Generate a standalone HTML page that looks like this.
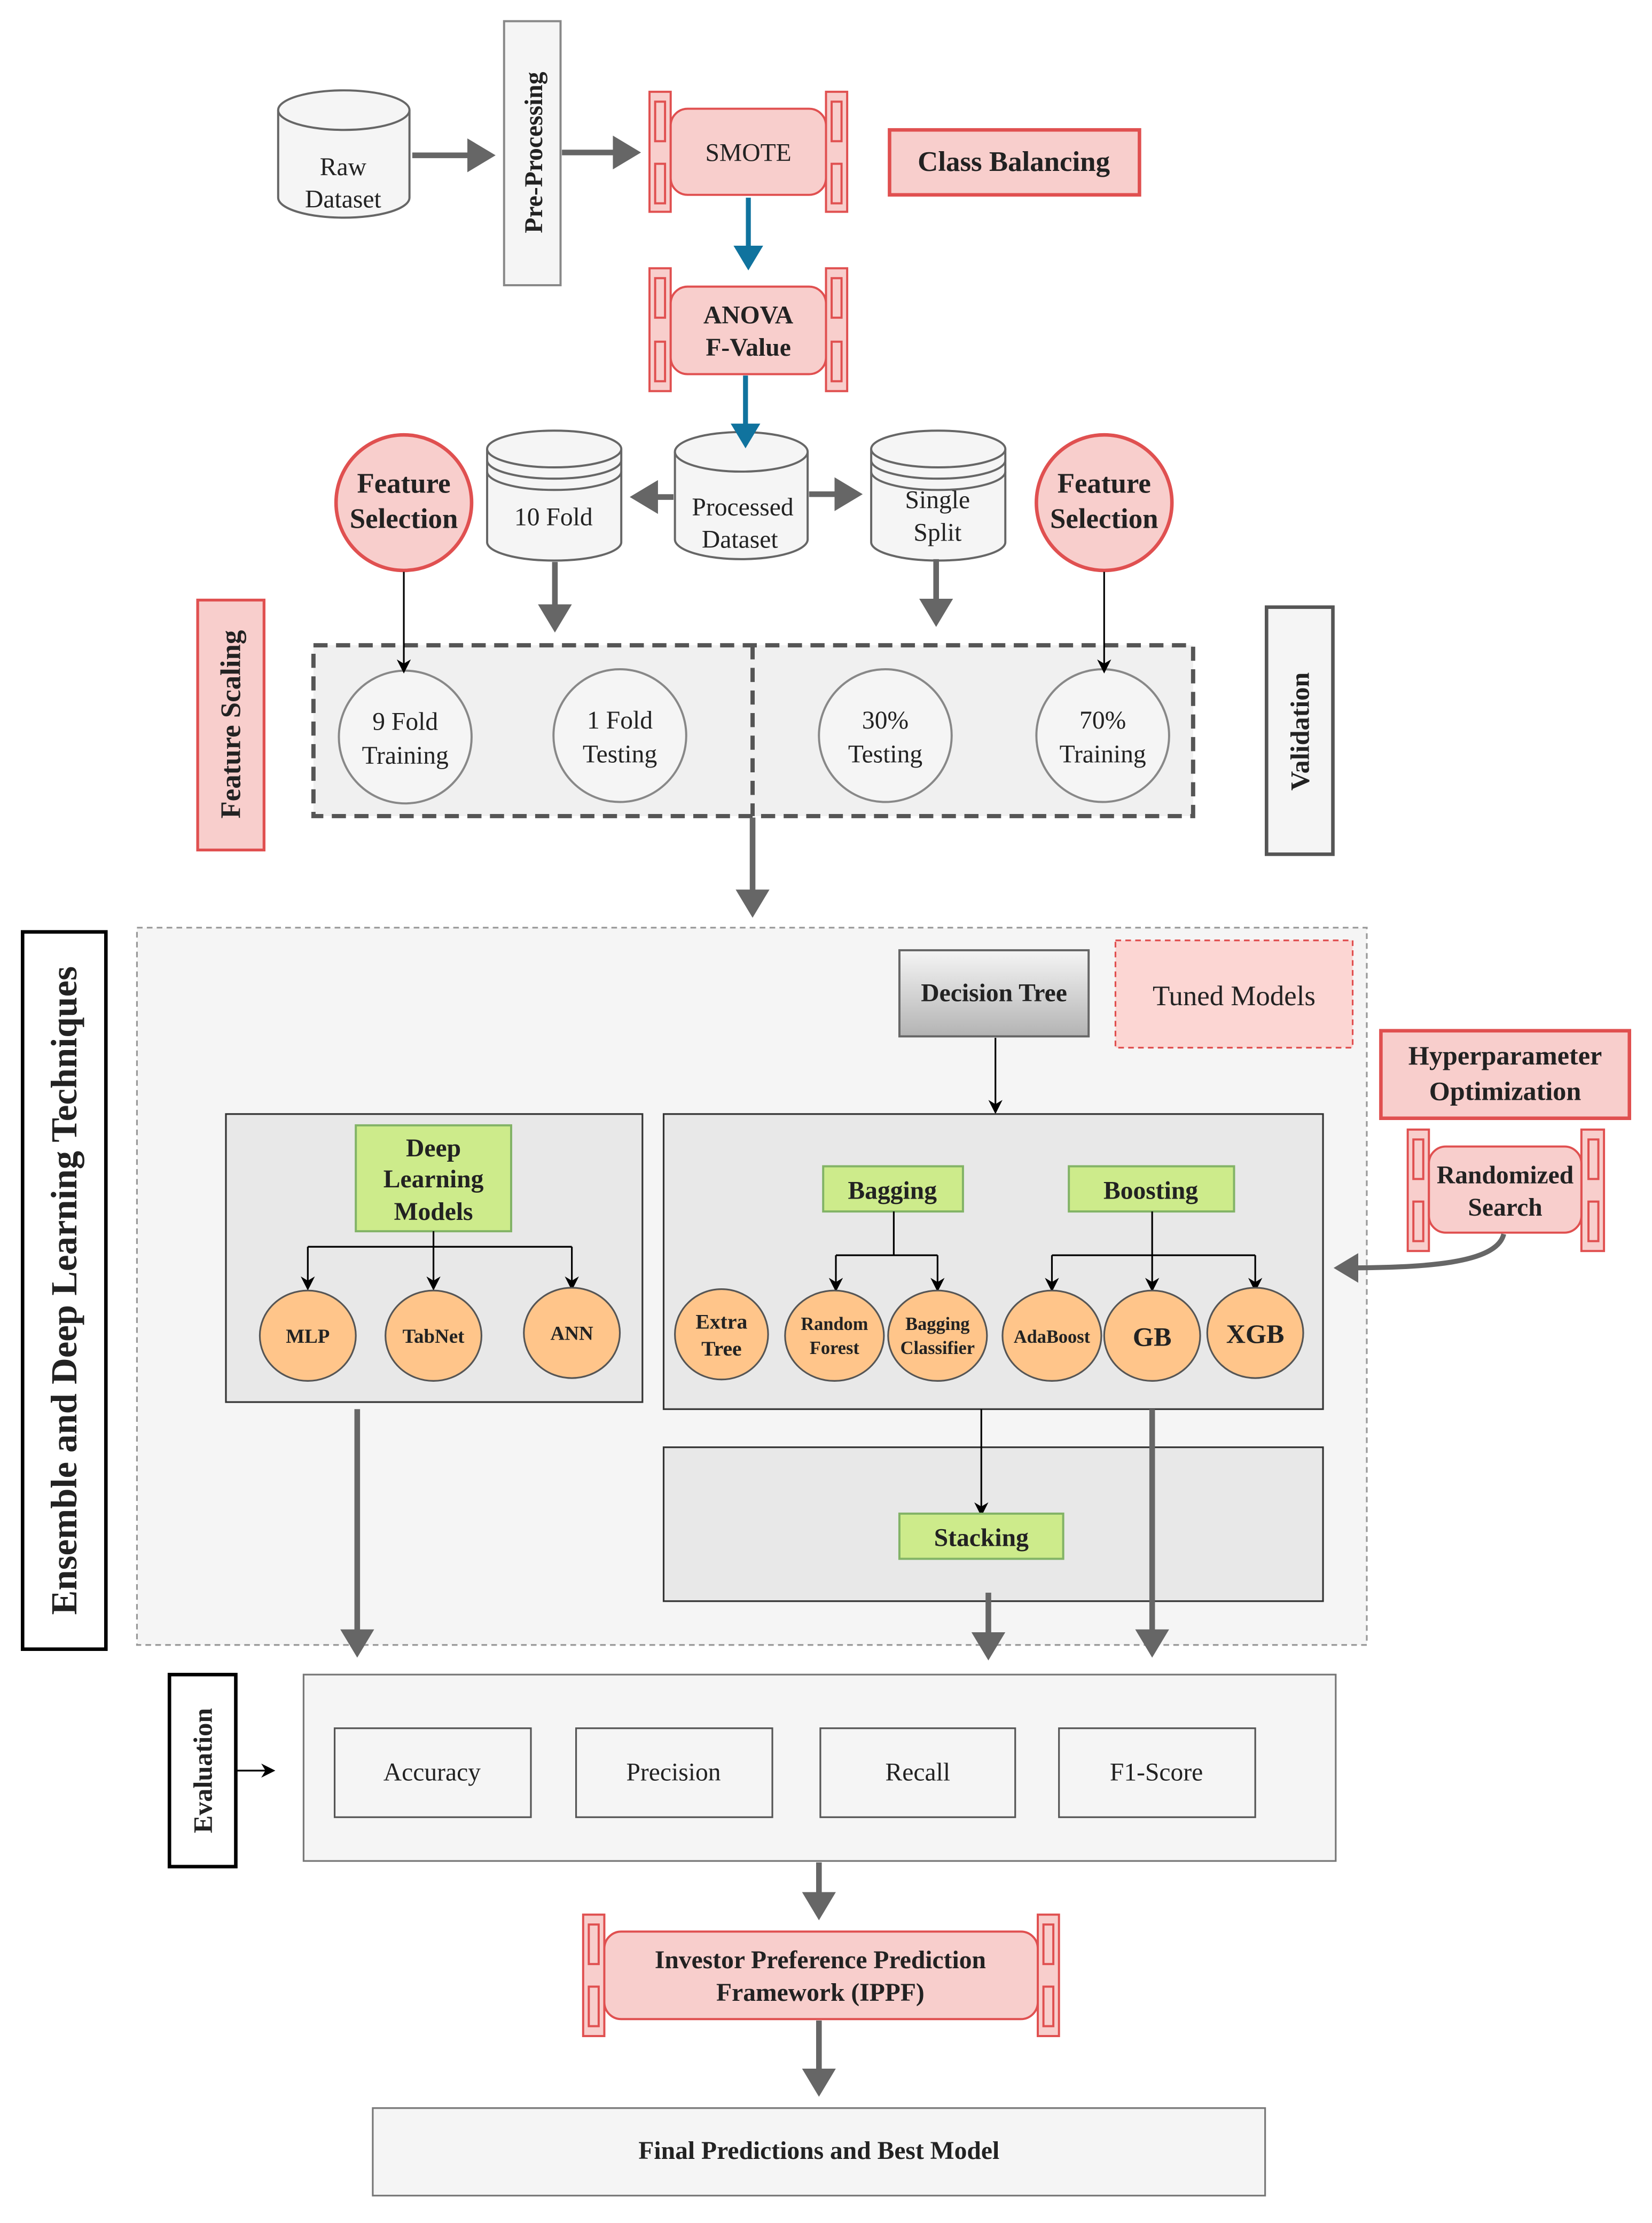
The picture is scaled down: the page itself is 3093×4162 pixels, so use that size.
<!DOCTYPE html>
<html><head><meta charset="utf-8"><style>
html,body{margin:0;padding:0;background:#fff}
svg{display:block}
text{font-family:"Liberation Serif",serif;fill:#222}
</style></head><body>
<svg width="3093" height="4162" viewBox="0 0 1170 1574.4" preserveAspectRatio="none" xmlns="http://www.w3.org/2000/svg">
<defs>
<marker id="g" markerWidth="6" markerHeight="6" refX="4" refY="3" orient="auto" markerUnits="strokeWidth"><path d="M0,0 L5,3 L0,6 Z" fill="#666"/></marker>
<marker id="b" markerWidth="6" markerHeight="6" refX="4" refY="3" orient="auto" markerUnits="strokeWidth"><path d="M0,0 L5,3 L0,6 Z" fill="#10739e"/></marker>
<marker id="k" markerWidth="10" markerHeight="10" refX="8" refY="5" orient="auto" markerUnits="userSpaceOnUse"><path d="M0,0 L10,5 L0,10 L3,5 Z" fill="#000"/></marker>
<linearGradient id="gr" x1="0" y1="0" x2="0" y2="1"><stop offset="0" stop-color="#f5f5f5"/><stop offset="1" stop-color="#b3b3b3"/></linearGradient>
</defs>

<!-- Raw Dataset -->
<path d="M197,78 v62 a46,14 0 0 0 93,0 v-62" fill="#f5f5f5" stroke="#666" stroke-width="1.5"/>
<ellipse cx="243.5" cy="78" rx="46.5" ry="14" fill="#f5f5f5" stroke="#666" stroke-width="1.5"/>
<text x="243" y="124" font-size="18" text-anchor="middle">Raw</text>
<text x="243" y="147" font-size="18" text-anchor="middle">Dataset</text>
<line x1="292" y1="110" x2="347" y2="110" stroke="#666" stroke-width="4" marker-end="url(#g)"/>

<rect x="357" y="15" width="40" height="187" fill="#f5f5f5" stroke="#888" stroke-width="1.5"/>
<text transform="translate(384,108) rotate(-90)" font-size="18" font-weight="bold" text-anchor="middle">Pre-Processing</text>
<line x1="398" y1="108" x2="450" y2="108" stroke="#666" stroke-width="4" marker-end="url(#g)"/>

<!-- SMOTE -->
<g stroke="#e05050" stroke-width="1.5" fill="#f8cecc">
<rect x="460" y="65" width="15" height="85"/><rect x="585" y="65" width="15" height="85"/>
<rect x="464" y="72" width="7" height="28"/><rect x="464" y="116" width="7" height="28"/>
<rect x="589" y="72" width="7" height="28"/><rect x="589" y="116" width="7" height="28"/>
<rect x="475" y="77" width="110" height="61" rx="12"/>
</g>
<text x="530" y="114" font-size="18" text-anchor="middle">SMOTE</text>
<rect x="630" y="92" width="177" height="46" fill="#f8cecc" stroke="#e05050" stroke-width="2.5"/>
<text x="718" y="121" font-size="20" font-weight="bold" text-anchor="middle">Class Balancing</text>
<line x1="530" y1="140" x2="530" y2="188" stroke="#10739e" stroke-width="3.5" marker-end="url(#b)"/>

<!-- ANOVA -->
<g stroke="#e05050" stroke-width="1.5" fill="#f8cecc">
<rect x="460" y="190" width="15" height="87"/><rect x="585" y="190" width="15" height="87"/>
<rect x="464" y="197" width="7" height="28"/><rect x="464" y="242" width="7" height="28"/>
<rect x="589" y="197" width="7" height="28"/><rect x="589" y="242" width="7" height="28"/>
<rect x="475" y="203" width="110" height="62" rx="12"/>
</g>
<text x="530" y="229" font-size="18" font-weight="bold" text-anchor="middle">ANOVA</text>
<text x="530" y="252" font-size="18" font-weight="bold" text-anchor="middle">F-Value</text>

<!-- Processed Dataset -->
<path d="M478,320 v62 a47,14 0 0 0 94,0 v-62" fill="#f5f5f5" stroke="#666" stroke-width="1.5"/>
<ellipse cx="525" cy="320" rx="47" ry="14" fill="#f5f5f5" stroke="#666" stroke-width="1.5"/>
<text x="526" y="365" font-size="18" text-anchor="middle">Processed</text>
<text x="524" y="388" font-size="18" text-anchor="middle">Dataset</text>
<line x1="528" y1="266" x2="528" y2="314" stroke="#10739e" stroke-width="3.5" marker-end="url(#b)"/>
<line x1="477" y1="352" x2="450" y2="352" stroke="#666" stroke-width="4" marker-end="url(#g)"/>
<line x1="573" y1="350" x2="607" y2="350" stroke="#666" stroke-width="4" marker-end="url(#g)"/>

<!-- 10 Fold -->
<path d="M345,318 v66 a47.5,13 0 0 0 95,0 v-66" fill="#f5f5f5" stroke="#666" stroke-width="1.5"/>
<ellipse cx="392.5" cy="318" rx="47.5" ry="13" fill="#f5f5f5" stroke="#666" stroke-width="1.5"/>
<path d="M345,326 a47.5,13 0 0 0 95,0 M345,334 a47.5,13 0 0 0 95,0" fill="none" stroke="#666" stroke-width="1.5"/>
<text x="392" y="372" font-size="18" text-anchor="middle">10 Fold</text>
<!-- Single Split -->
<path d="M617,318 v66 a47.5,13 0 0 0 95,0 v-66" fill="#f5f5f5" stroke="#666" stroke-width="1.5"/>
<ellipse cx="664.5" cy="318" rx="47.5" ry="13" fill="#f5f5f5" stroke="#666" stroke-width="1.5"/>
<path d="M617,326 a47.5,13 0 0 0 95,0 M617,334 a47.5,13 0 0 0 95,0" fill="none" stroke="#666" stroke-width="1.5"/>
<text x="664" y="360" font-size="18" text-anchor="middle">Single</text>
<text x="664" y="383" font-size="18" text-anchor="middle">Split</text>

<!-- Feature Selection -->
<circle cx="286" cy="356" r="48" fill="#f8cecc" stroke="#e05050" stroke-width="2.5"/>
<text x="286" y="349" font-size="20" font-weight="bold" text-anchor="middle">Feature</text>
<text x="286" y="374" font-size="20" font-weight="bold" text-anchor="middle">Selection</text>
<circle cx="782" cy="356" r="48" fill="#f8cecc" stroke="#e05050" stroke-width="2.5"/>
<text x="782" y="349" font-size="20" font-weight="bold" text-anchor="middle">Feature</text>
<text x="782" y="374" font-size="20" font-weight="bold" text-anchor="middle">Selection</text>

<!-- dashed box -->
<rect x="222" y="457" width="623" height="121" fill="#f0f0f0" stroke="#555" stroke-width="3" stroke-dasharray="10,6"/>
<line x1="533" y1="457" x2="533" y2="578" stroke="#555" stroke-width="3" stroke-dasharray="10,6"/>
<g fill="#f5f5f5" stroke="#888" stroke-width="1.5">
<circle cx="287" cy="522" r="47"/><circle cx="439" cy="521" r="47"/><circle cx="627" cy="521" r="47"/><circle cx="781" cy="521" r="47"/>
</g>
<g font-size="18" text-anchor="middle">
<text x="287" y="517">9 Fold</text><text x="287" y="541">Training</text>
<text x="439" y="516">1 Fold</text><text x="439" y="540">Testing</text>
<text x="627" y="516">30%</text><text x="627" y="540">Testing</text>
<text x="781" y="516">70%</text><text x="781" y="540">Training</text>
</g>
<line x1="286" y1="405" x2="286" y2="475" stroke="#000" stroke-width="1.2" marker-end="url(#k)"/>
<line x1="782" y1="405" x2="782" y2="475" stroke="#000" stroke-width="1.2" marker-end="url(#k)"/>
<line x1="393" y1="398" x2="393" y2="444" stroke="#666" stroke-width="4" marker-end="url(#g)"/>
<line x1="663" y1="396" x2="663" y2="440" stroke="#666" stroke-width="4" marker-end="url(#g)"/>

<rect x="140" y="425" width="47" height="177" fill="#f8cecc" stroke="#e05050" stroke-width="2"/>
<text transform="translate(170,513) rotate(-90)" font-size="20" font-weight="bold" text-anchor="middle">Feature Scaling</text>
<rect x="897" y="430" width="47" height="175" fill="#f5f5f5" stroke="#555" stroke-width="2.5"/>
<text transform="translate(927,518) rotate(-90)" font-size="19" font-weight="bold" text-anchor="middle">Validation</text>
<line x1="533" y1="579" x2="533" y2="646" stroke="#666" stroke-width="4" marker-end="url(#g)"/>

<!-- Big region -->
<rect x="97" y="657" width="871" height="508" fill="#f5f5f5" stroke="#999" stroke-width="1.2" stroke-dasharray="4,3"/>
<rect x="16" y="660" width="59" height="508" fill="#fff" stroke="#000" stroke-width="2.5"/>
<text transform="translate(54,914) rotate(-90)" font-size="26" font-weight="bold" text-anchor="middle">Ensemble and Deep Learning Techniques</text>

<rect x="637" y="673" width="134" height="61" fill="url(#gr)" stroke="#666" stroke-width="1.5"/>
<text x="704" y="709" font-size="18" font-weight="bold" text-anchor="middle">Decision Tree</text>
<line x1="705" y1="735" x2="705" y2="787" stroke="#000" stroke-width="1.2" marker-end="url(#k)"/>
<rect x="790" y="666" width="168" height="76" fill="#fcd6d3" stroke="#e05050" stroke-width="1.2" stroke-dasharray="4,3"/>
<text x="874" y="712" font-size="20" text-anchor="middle">Tuned Models</text>

<rect x="978" y="730" width="176" height="62" fill="#f8cecc" stroke="#e05050" stroke-width="2.5"/>
<text x="1066" y="754" font-size="19" font-weight="bold" text-anchor="middle">Hyperparameter</text>
<text x="1066" y="779" font-size="19" font-weight="bold" text-anchor="middle">Optimization</text>
<g stroke="#e05050" stroke-width="1.5" fill="#f8cecc">
<rect x="997" y="800" width="15" height="86"/><rect x="1120" y="800" width="16" height="86"/>
<rect x="1001" y="807" width="7" height="28"/><rect x="1001" y="851" width="7" height="28"/>
<rect x="1125" y="807" width="7" height="28"/><rect x="1125" y="851" width="7" height="28"/>
<rect x="1012" y="812" width="108" height="61" rx="12"/>
</g>
<text x="1066" y="838" font-size="18" font-weight="bold" text-anchor="middle">Randomized</text>
<text x="1066" y="861" font-size="18" font-weight="bold" text-anchor="middle">Search</text>
<path d="M1065,874 C1060,895 1010,898 948,898" fill="none" stroke="#666" stroke-width="3.5" marker-end="url(#g)"/>

<!-- DL box -->
<rect x="160" y="789" width="295" height="204" fill="#e8e8e8" stroke="#333" stroke-width="1.2"/>
<rect x="252" y="797" width="110" height="75" fill="#cdeb8b" stroke="#82b366" stroke-width="1.5"/>
<g font-size="18" font-weight="bold" text-anchor="middle">
<text x="307" y="819">Deep</text><text x="307" y="841">Learning</text><text x="307" y="864">Models</text>
</g>
<g stroke="#000" stroke-width="1.2" fill="none">
<path d="M307,872 V883 M218,883 H405"/>
<line x1="218" y1="883" x2="218" y2="912" marker-end="url(#k)"/>
<line x1="307" y1="883" x2="307" y2="912" marker-end="url(#k)"/>
<line x1="405" y1="883" x2="405" y2="912" marker-end="url(#k)"/>
</g>
<g fill="#ffc58a" stroke="#555" stroke-width="1.2">
<ellipse cx="218" cy="946" rx="34" ry="32"/><ellipse cx="307" cy="946" rx="34" ry="32"/><ellipse cx="405" cy="944" rx="34" ry="32"/>
</g>
<g font-size="14" font-weight="bold" text-anchor="middle">
<text x="218" y="951">MLP</text><text x="307" y="951">TabNet</text><text x="405" y="949">ANN</text>
</g>

<!-- Ensemble box -->
<rect x="470" y="789" width="467" height="209" fill="#e8e8e8" stroke="#333" stroke-width="1.2"/>
<rect x="583" y="826" width="99" height="32" fill="#cdeb8b" stroke="#82b366" stroke-width="1.5"/>
<text x="632" y="849" font-size="18" font-weight="bold" text-anchor="middle">Bagging</text>
<rect x="757" y="826" width="117" height="32" fill="#cdeb8b" stroke="#82b366" stroke-width="1.5"/>
<text x="815" y="849" font-size="18" font-weight="bold" text-anchor="middle">Boosting</text>
<g stroke="#000" stroke-width="1.2" fill="none">
<path d="M633,858 V889 M592,889 H664 M816,858 V889 M745,889 H889"/>
<line x1="592" y1="889" x2="592" y2="913" marker-end="url(#k)"/>
<line x1="664" y1="889" x2="664" y2="913" marker-end="url(#k)"/>
<line x1="745" y1="889" x2="745" y2="913" marker-end="url(#k)"/>
<line x1="816" y1="889" x2="816" y2="913" marker-end="url(#k)"/>
<line x1="889" y1="889" x2="889" y2="913" marker-end="url(#k)"/>
</g>
<g fill="#ffc58a" stroke="#555" stroke-width="1.2">
<ellipse cx="511" cy="945" rx="33" ry="32"/><ellipse cx="591" cy="946" rx="35" ry="32"/><ellipse cx="664" cy="946" rx="35" ry="32"/>
<ellipse cx="745" cy="946" rx="35" ry="32"/><ellipse cx="816" cy="946" rx="34" ry="32"/><ellipse cx="889" cy="944" rx="34" ry="32"/>
</g>
<g font-weight="bold" text-anchor="middle">
<text x="511" y="941" font-size="15">Extra</text><text x="511" y="960" font-size="15">Tree</text>
<text x="591" y="942" font-size="13">Random</text><text x="591" y="959" font-size="13">Forest</text>
<text x="664" y="942" font-size="13">Bagging</text><text x="664" y="959" font-size="13">Classifier</text>
<text x="745" y="951" font-size="13">AdaBoost</text>
<text x="816" y="953" font-size="19">GB</text>
<text x="889" y="951" font-size="19">XGB</text>
</g>

<rect x="470" y="1025" width="467" height="109" fill="#e8e8e8" stroke="#333" stroke-width="1.2"/>
<line x1="695" y1="998" x2="695" y2="1072" stroke="#000" stroke-width="1.2" marker-end="url(#k)"/>
<rect x="637" y="1072" width="116" height="32" fill="#cdeb8b" stroke="#82b366" stroke-width="1.5"/>
<text x="695" y="1095" font-size="18" font-weight="bold" text-anchor="middle">Stacking</text>

<line x1="253" y1="998" x2="253" y2="1170" stroke="#666" stroke-width="4" marker-end="url(#g)"/>
<line x1="700" y1="1128" x2="700" y2="1172" stroke="#666" stroke-width="4" marker-end="url(#g)"/>
<line x1="816" y1="998" x2="816" y2="1170" stroke="#666" stroke-width="4" marker-end="url(#g)"/>

<!-- Evaluation -->
<rect x="120" y="1186" width="47" height="136" fill="#fff" stroke="#000" stroke-width="2.5"/>
<text transform="translate(150,1254) rotate(-90)" font-size="19" font-weight="bold" text-anchor="middle">Evaluation</text>
<line x1="167" y1="1254" x2="193" y2="1254" stroke="#000" stroke-width="1.2" marker-end="url(#k)"/>
<rect x="215" y="1186" width="731" height="132" fill="#f5f5f5" stroke="#777" stroke-width="1.2"/>
<g fill="#f5f5f5" stroke="#555" stroke-width="1.2">
<rect x="237" y="1224" width="139" height="63"/><rect x="408" y="1224" width="139" height="63"/>
<rect x="581" y="1224" width="138" height="63"/><rect x="750" y="1224" width="139" height="63"/>
</g>
<g font-size="18" text-anchor="middle">
<text x="306" y="1261">Accuracy</text><text x="477" y="1261">Precision</text><text x="650" y="1261">Recall</text><text x="819" y="1261">F1-Score</text>
</g>
<line x1="580" y1="1319" x2="580" y2="1356" stroke="#666" stroke-width="4" marker-end="url(#g)"/>

<!-- IPPF -->
<g stroke="#e05050" stroke-width="1.5" fill="#f8cecc">
<rect x="413" y="1356" width="15" height="86"/><rect x="735" y="1356" width="15" height="86"/>
<rect x="417" y="1363" width="7" height="28"/><rect x="417" y="1407" width="7" height="28"/>
<rect x="739" y="1363" width="7" height="28"/><rect x="739" y="1407" width="7" height="28"/>
<rect x="428" y="1368" width="307" height="62" rx="12"/>
</g>
<text x="581" y="1394" font-size="18" font-weight="bold" text-anchor="middle">Investor Preference Prediction</text>
<text x="581" y="1417" font-size="18" font-weight="bold" text-anchor="middle">Framework (IPPF)</text>
<line x1="580" y1="1431" x2="580" y2="1481" stroke="#666" stroke-width="4" marker-end="url(#g)"/>
<rect x="264" y="1493" width="632" height="62" fill="#f5f5f5" stroke="#777" stroke-width="1.2"/>
<text x="580" y="1529" font-size="18" font-weight="bold" text-anchor="middle">Final Predictions and Best Model</text>
</svg>
</body></html>
